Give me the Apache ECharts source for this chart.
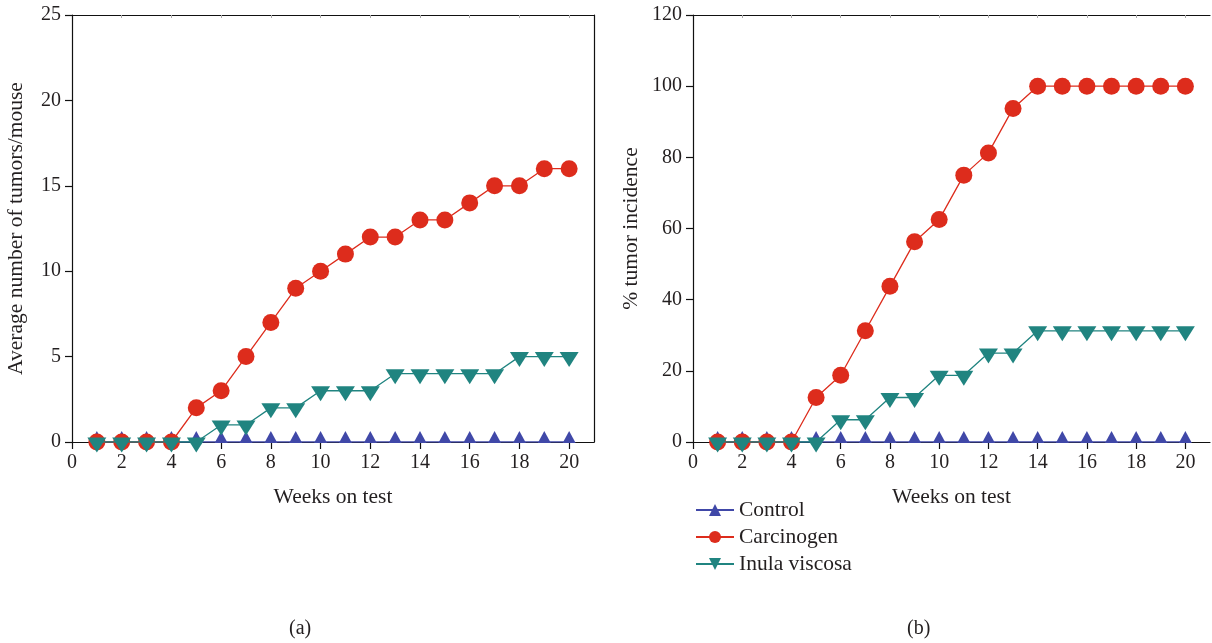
<!DOCTYPE html>
<html><head><meta charset="utf-8">
<script src="https://cdn.jsdelivr.net/npm/echarts@6/dist/echarts.min.js"></script>
<style>html,body{margin:0;padding:0;background:#fff}#c{width:1212px;height:643px}</style>
</head><body><div id="c"></div>
<script>
var weeks = [1,2,3,4,5,6,7,8,9,10,11,12,13,14,15,16,17,18,19,20];
var tumorsControl    = [0,0,0,0,0,0,0,0,0,0,0,0,0,0,0,0,0,0,0,0];
var tumorsCarcinogen = [0,0,0,0,2,3,5,7,9,10,11,12,12,13,13,14,15,15,16,16];
var tumorsInula      = [0,0,0,0,0,1,1,2,2,3,3,3,4,4,4,4,4,5,5,5];
var incControl    = [0,0,0,0,0,0,0,0,0,0,0,0,0,0,0,0,0,0,0,0];
var incCarcinogen = [0,0,0,0,12.5,18.75,31.25,43.75,56.25,62.5,75,81.25,93.75,100,100,100,100,100,100,100];
var incInula      = [0,0,0,0,0,6.25,6.25,12.5,12.5,18.75,18.75,25,25,31.25,31.25,31.25,31.25,31.25,31.25,31.25];
var xTicks = [0,2,4,6,8,10,12,14,16,18,20];
var leftYTicks = [0,5,10,15,20,25];
var rightYTicks = [0,20,40,60,80,100,120];
var names = ['Control','Carcinogen','Inula viscosa'];

var FONT = '"Liberation Serif", "DejaVu Serif", serif';
var FS = 20;
var FN = 21.5;
var TXT = '#231f20';
var colors = ['#4048a8','#dd2c1c','#208480'];

function pairs(ys){ return weeks.map(function(w,i){ return [w, ys[i]]; }); }

function xAxisBottom(gi){
  return {type:'value', gridIndex:gi, min:0, max:21, position:'bottom',
    axisLine:{show:true, onZero:false, lineStyle:{color:'#111', width:1.2}},
    axisTick:{show:true, inside:false, length:7, customValues:xTicks, lineStyle:{color:'#111', width:1.2}},
    axisLabel:{show:true, customValues:xTicks, color:TXT, fontFamily:FONT, fontSize:FS, margin:11},
    splitLine:{show:false},
    name:'Weeks on test', nameLocation:'middle', nameGap:44,
    nameTextStyle:{color:TXT, fontFamily:FONT, fontSize:FN}};
}
function xAxisTop(gi){
  return {type:'value', gridIndex:gi, min:0, max:21, position:'top',
    axisLine:{show:true, onZero:false, lineStyle:{color:'#111', width:1.2}},
    axisTick:{show:true, inside:true, length:3, customValues:xTicks.slice(1), lineStyle:{color:'#aaa', width:1}},
    axisLabel:{show:false}, splitLine:{show:false}};
}
function yAxis(gi, max, interval, ticks, name, gap){
  return {type:'value', gridIndex:gi, min:0, max:max, interval:interval, position:'left',
    axisLine:{show:true, onZero:false, lineStyle:{color:'#111', width:1.2}},
    axisTick:{show:true, inside:false, length:7, lineStyle:{color:'#111', width:1.2}},
    axisLabel:{color:TXT, fontFamily:FONT, fontSize:FS, margin:11},
    splitLine:{show:false},
    name:name, nameLocation:'middle', nameGap:gap, nameRotate:90,
    nameTextStyle:{color:TXT, fontFamily:FONT, fontSize:FN}};
}
function yAxisRight(gi, max, interval, showLine){
  return {type:'value', gridIndex:gi, min:0, max:max, interval:interval, position:'right',
    axisLine:{show:showLine, onZero:false, lineStyle:{color:'#111', width:1.2}},
    axisTick:{show:false}, axisLabel:{show:false}, splitLine:{show:false}};
}

function mkSeries(gi, ys, k){
  var s = {type:'line', name:names[k], xAxisIndex:gi*2, yAxisIndex:gi*2,
    data:pairs(ys), showAllSymbol:true, animation:false,
    lineStyle:{color:colors[k], width:1.3},
    itemStyle:{color:colors[k]}, z:2+k};
  if(k===0){ s.symbol='triangle'; s.symbolSize=[13,12]; s.symbolOffset=[0,-5]; }
  if(k===1){ s.symbol='circle'; s.symbolSize=17; }
  if(k===2){ s.symbol='triangle'; s.symbolRotate=180; s.symbolSize=[19,15]; s.symbolOffset=[0,3]; }
  return s;
}

var chart = echarts.init(document.getElementById('c'));
chart.setOption({
  animation:false,
  backgroundColor:'#fff',
  grid:[
    {left:72, right:618, top:15, bottom:201},
    {left:693, right:2, top:15, bottom:201}
  ],
  xAxis:[xAxisBottom(0), xAxisTop(0), xAxisBottom(1), xAxisTop(1)],
  yAxis:[yAxis(0,25,5,leftYTicks,'Average number of tumors/mouse',45), yAxisRight(0,25,5,true),
         yAxis(1,120,20,rightYTicks,'% tumor incidence',51), yAxisRight(1,120,20,false)],
  legend:{orient:'vertical', left:690, top:494, itemWidth:38, itemHeight:15, itemGap:5,
    data:names,
    textStyle:{color:TXT, fontFamily:FONT, fontSize:FN}},
  graphic:[
    {type:'text', left:289, top:619, style:{text:'(a)', fill:TXT, font:FS+'px '+FONT}},
    {type:'text', left:907, top:619, style:{text:'(b)', fill:TXT, font:FS+'px '+FONT}}
  ],
  series:[
    mkSeries(0, tumorsControl, 0), mkSeries(0, tumorsCarcinogen, 1), mkSeries(0, tumorsInula, 2),
    mkSeries(1, incControl, 0), mkSeries(1, incCarcinogen, 1), mkSeries(1, incInula, 2)
  ]
});
</script></body></html>
